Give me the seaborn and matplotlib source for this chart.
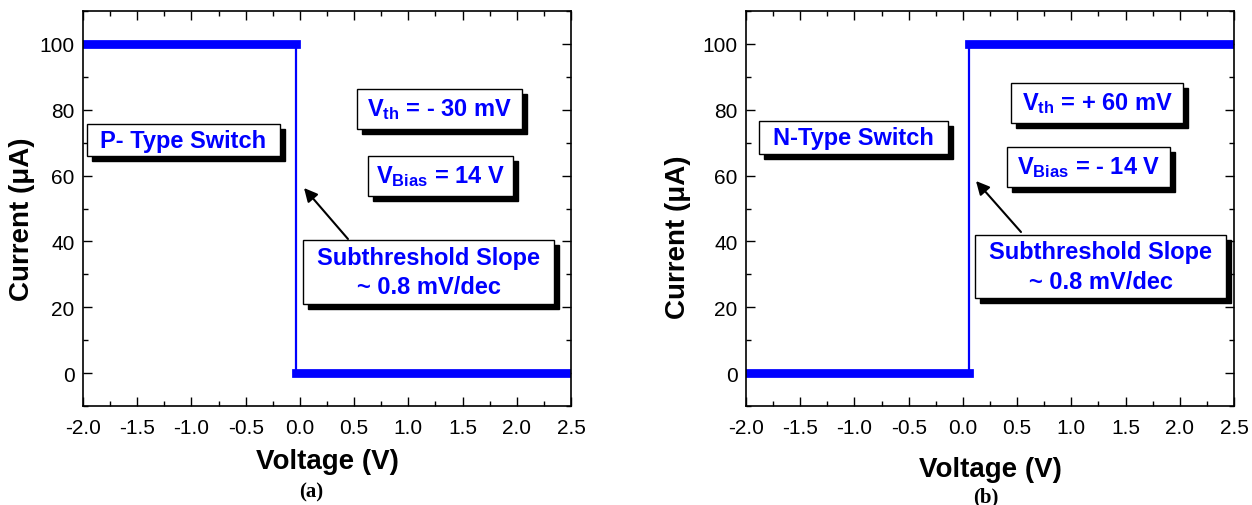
import matplotlib
matplotlib.use("Agg")
import matplotlib.pyplot as plt
import matplotlib.transforms as mtransforms
from matplotlib.patches import Rectangle
from matplotlib.ticker import MultipleLocator
import pandas as pd
import seaborn as sns

# ---------------- data ----------------
p_voltage = [-2.0, -0.04, -0.04, 2.5]
p_current = [100, 100, 0, 0]
n_voltage = [-2.0, 0.06, 0.06, 2.5]
n_current = [0, 0, 100, 100]
x_ticks = [-2.0, -1.5, -1.0, -0.5, 0.0, 0.5, 1.0, 1.5, 2.0, 2.5]
y_ticks = [0, 20, 40, 60, 80, 100]
x_label = "Voltage (V)"
y_label = "Current (\u03bcA)"
p_texts = ["P- Type Switch", r"$\mathbf{V_{th}}$ = - 30 mV",
           r"$\mathbf{V_{Bias}}$ = 14 V", "Subthreshold Slope\n~ 0.8 mV/dec"]
n_texts = ["N-Type Switch", r"$\mathbf{V_{th}}$ = + 60 mV",
           r"$\mathbf{V_{Bias}}$ = - 14 V", "Subthreshold Slope\n~ 0.8 mV/dec"]
panel_tags = ["(a)", "(b)"]

BLUE = "#0000FF"

sns.set_theme(style="white")
plt.rcParams["font.family"] = ["Liberation Sans", "DejaVu Sans"]
plt.rcParams["mathtext.fontset"] = "custom"
plt.rcParams["mathtext.bf"] = "Liberation Sans:bold"
plt.rcParams["mathtext.rm"] = "Liberation Sans"
plt.rcParams["mathtext.it"] = "Liberation Sans:italic"
plt.rcParams["text.color"] = "black"
plt.rcParams["axes.labelcolor"] = "black"
plt.rcParams["xtick.color"] = "black"
plt.rcParams["ytick.color"] = "black"

W, H = 1252, 506
fig = plt.figure(figsize=(W / 100, H / 100), dpi=100)
ax_l = fig.add_axes([83 / W, (H - 407) / H, 488 / W, 395 / H])
ax_r = fig.add_axes([746 / W, (H - 407) / H, 488 / W, 395 / H])


def draw_curve(ax, v, i):
    df = pd.DataFrame({"V": v, "I": i})
    sns.lineplot(data=df, x="V", y="I", sort=False, estimator=None,
                 color=BLUE, lw=1.6, ax=ax)
    for part in (df.iloc[0:2], df.iloc[2:4]):
        sns.lineplot(data=part, x="V", y="I", sort=False, estimator=None,
                     color=BLUE, lw=6.3, solid_capstyle="projecting", ax=ax)


def style_axes(ax):
    ax.set_xlim(-2.0, 2.5)
    ax.set_ylim(-10, 110)
    ax.set_xticks(x_ticks)
    ax.set_xticklabels([f"{t:.1f}" for t in x_ticks])
    ax.set_yticks(y_ticks)
    ax.xaxis.set_minor_locator(MultipleLocator(0.25))
    ax.yaxis.set_minor_locator(MultipleLocator(10))
    ax.tick_params(which="both", direction="in", top=True, right=True,
                   bottom=True, left=True, color="black", width=1.0)
    ax.tick_params(which="major", length=6.5, labelsize=15, labelcolor="black")
    ax.tick_params(which="minor", length=3.5)
    ax.tick_params(axis="x", which="major", pad=9)
    ax.tick_params(axis="y", which="major", pad=6)
    for s in ax.spines.values():
        s.set_color("black")
        s.set_linewidth(1.2)
        s.set_visible(True)


def add_box(ax, x0, x1, y0, y1, text, fs=17, ls=1.35):
    shadow_tr = mtransforms.offset_copy(ax.transAxes, fig=fig, x=5, y=-5, units="dots")
    ax.add_patch(Rectangle((x0, y0), x1 - x0, y1 - y0, transform=shadow_tr,
                           facecolor="black", edgecolor="black", zorder=5, clip_on=False))
    ax.add_patch(Rectangle((x0, y0), x1 - x0, y1 - y0, transform=ax.transAxes,
                           facecolor="white", edgecolor="black", lw=1.0, zorder=6, clip_on=False))
    ax.text((x0 + x1) / 2, (y0 + y1) / 2, text, transform=ax.transAxes,
            ha="center", va="center", color=BLUE, fontsize=fs, fontweight="bold",
            linespacing=ls, zorder=7)


def add_arrow(ax, tail, head):
    ax.annotate("", xy=head, xytext=tail, xycoords="axes fraction",
                textcoords="axes fraction",
                arrowprops=dict(arrowstyle="-|>", color="black", lw=1.5,
                                mutation_scale=20, shrinkA=0, shrinkB=0), zorder=8)


# ---- left panel (P-type) ----
draw_curve(ax_l, p_voltage, p_current)
style_axes(ax_l)
ax_l.set_xlabel(x_label, fontsize=20, fontweight="bold", va="center", color="black")
ax_l.set_ylabel(y_label, fontsize=20, fontweight="bold", va="center", color="black")
ax_l.xaxis.set_label_coords(0.5, -0.139)
ax_l.yaxis.set_label_coords(-0.125, 0.475)
add_box(ax_l, 0.0082, 0.4037, 0.6329, 0.7139, p_texts[0])
add_box(ax_l, 0.5615, 0.8996, 0.7013, 0.8025, p_texts[1])
add_box(ax_l, 0.5840, 0.8811, 0.5316, 0.6329, p_texts[2])
add_box(ax_l, 0.4508, 0.9652, 0.2582, 0.4203, p_texts[3])
add_arrow(ax_l, (0.543, 0.4228), (0.4529, 0.5519))

# ---- right panel (N-type) ----
draw_curve(ax_r, n_voltage, n_current)
style_axes(ax_r)
ax_r.set_xlabel(x_label, fontsize=20, fontweight="bold", va="center", color="black")
ax_r.set_ylabel(y_label, fontsize=20, fontweight="bold", va="center", color="black")
ax_r.xaxis.set_label_coords(0.5, -0.159)
ax_r.yaxis.set_label_coords(-0.139, 0.43)
add_box(ax_r, 0.0266, 0.4139, 0.6380, 0.7215, n_texts[0])
add_box(ax_r, 0.5430, 0.8955, 0.7165, 0.8177, n_texts[1])
add_box(ax_r, 0.5348, 0.8689, 0.5544, 0.6557, n_texts[2])
add_box(ax_r, 0.4693, 0.9836, 0.2734, 0.4329, n_texts[3])
add_arrow(ax_r, (0.5635, 0.4405), (0.4713, 0.5696))

# ---- panel tags ----
fig.text(311 / W, 1 - 492 / H, panel_tags[0], ha="center", va="center",
         fontsize=15, fontweight="bold", family=["Liberation Serif", "DejaVu Serif"])
fig.text(986 / W, 1 - 497 / H, panel_tags[1], ha="center", va="center",
         fontsize=15, fontweight="bold", family=["Liberation Serif", "DejaVu Serif"])

fig.savefig("out.png", dpi=100, facecolor="white")
